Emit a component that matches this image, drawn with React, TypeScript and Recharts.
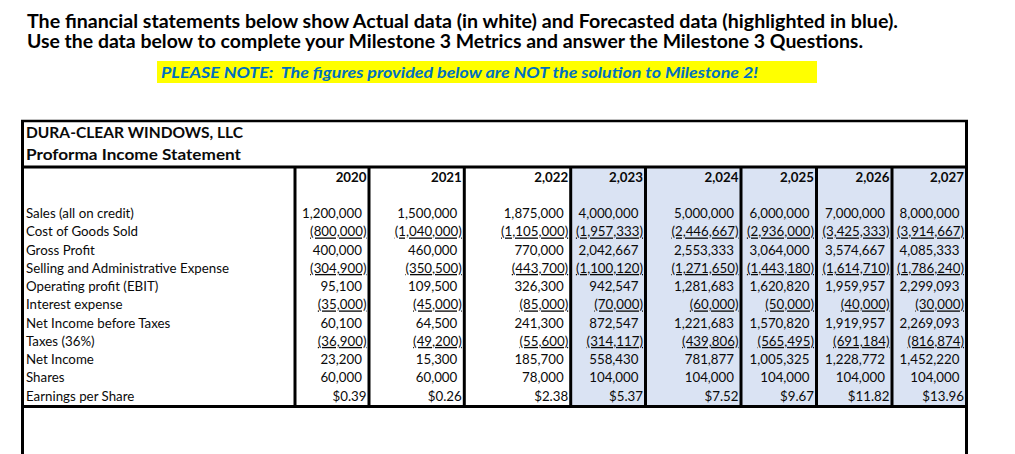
import React from 'react';
import { ScatterChart, Scatter, XAxis, YAxis, ReferenceArea, ReferenceLine } from 'recharts';

// ---------- data ----------
const years = ['2020', '2021', '2,022', '2,023', '2,024', '2,025', '2,026', '2,027'];
const firstForecastIndex = 3;
const rowLabels = [
  'Sales (all on credit)',
  'Cost of Goods Sold',
  'Gross Profit',
  'Selling and Administrative Expense',
  'Operating profit (EBIT)',
  'Interest expense',
  'Net Income before Taxes',
  'Taxes (36%)',
  'Net Income',
  'Shares',
  'Earnings per Share',
];
const sales = [1200000, 1500000, 1875000, 4000000, 5000000, 6000000, 7000000, 8000000];
const cogs = [-800000, -1040000, -1105000, -1957333, -2446667, -2936000, -3425333, -3914667];
const grossProfit = [400000, 460000, 770000, 2042667, 2553333, 3064000, 3574667, 4085333];
const sga = [-304900, -350500, -443700, -1100120, -1271650, -1443180, -1614710, -1786240];
const ebit = [95100, 109500, 326300, 942547, 1281683, 1620820, 1959957, 2299093];
const interest = [-35000, -45000, -85000, -70000, -60000, -50000, -40000, -30000];
const nibt = [60100, 64500, 241300, 872547, 1221683, 1570820, 1919957, 2269093];
const taxes = [-36900, -49200, -55600, -314117, -439806, -565495, -691184, -816874];
const netIncome = [23200, 15300, 185700, 558430, 781877, 1005325, 1228772, 1452220];
const shares = [60000, 60000, 78000, 104000, 104000, 104000, 104000, 104000];
const eps = [0.39, 0.26, 2.38, 5.37, 7.52, 9.67, 11.82, 13.96];
const rowValues = [sales, cogs, grossProfit, sga, ebit, interest, nibt, taxes, netIncome, shares, eps];
const underlinedRows = [1, 3, 5, 7];
const epsRow = 10;

const heading1 = 'The financial statements below show Actual data (in white) and Forecasted data (highlighted in blue).';
const heading2 = 'Use the data below to complete your Milestone 3 Metrics and answer the Milestone 3 Questions.';
const note = 'PLEASE NOTE:  The figures provided below are NOT the solution to Milestone 2!';
const company = 'DURA-CLEAR WINDOWS, LLC';
const statement = 'Proforma Income Statement';

// ---------- layout ----------
const W = 1015;
const H = 454;
const FONT = 'Lato, "Open Sans", sans-serif';
const FS = 13.3;
const TEXT = '#0a0a0a';
// left frame, label|2020, 2020|2021, ..., 2026|2027, right frame
const colEdges = [23, 295, 369, 464.3, 570.7, 645.5, 741, 816.5, 892, 966.5];
const HEADER_KEY = '__header';
const BLANK_KEY = '__blank';
const rowKeys = [HEADER_KEY, BLANK_KEY, ...rowLabels];

const fmtNum = (v: number) =>
  v < 0 ? `(${Math.abs(v).toLocaleString('en-US')})` : v.toLocaleString('en-US');

type Cell = { x: number; row: string; text: string; kind: string; underline?: boolean };

const axisRows: Cell[] = rowKeys.map((k) => ({ x: colEdges[0], row: k, text: '', kind: 'none' }));
const labelCells: Cell[] = rowLabels.map((l) => ({ x: colEdges[0], row: l, text: l, kind: 'label' }));
const columnCells: Cell[][] = years.map((yr, i) => [
  { x: colEdges[i + 2], row: HEADER_KEY, text: yr, kind: 'header' },
  ...rowLabels.map((l, r) => {
    const v = rowValues[r][i];
    const isEps = r === epsRow;
    return {
      x: colEdges[i + 2],
      row: l,
      text: isEps ? `$${v.toFixed(2)}` : fmtNum(v),
      kind: isEps ? 'eps' : v < 0 ? 'neg' : 'pos',
      underline: underlinedRows.includes(r),
    };
  }),
]);

const CellText = (props: any) => {
  const { cx, cy, payload } = props;
  if (!payload || payload.kind === 'none') return <g />;
  if (payload.kind === 'label') {
    return (
      <text x={cx + 3} y={cy} dy="0.35em" fontFamily={FONT} fontSize={FS} fill={TEXT} textAnchor="start">
        {payload.text}
      </text>
    );
  }
  const offset = payload.kind === 'pos' ? 7 : 2.5;
  return (
    <text
      x={cx - offset}
      y={cy}
      dy="0.35em"
      fontFamily={FONT}
      fontSize={FS}
      fontWeight={payload.kind === 'header' ? 700 : 400}
      fill={TEXT}
      textAnchor="end"
      style={payload.underline ? { textDecoration: 'underline', textUnderlineOffset: '3.5px' } : undefined}
    >
      {payload.text}
    </text>
  );
};

export default function App() {
  return (
    <div style={{ position: 'absolute', left: 0, top: 0, width: W, height: H, background: '#fff', overflow: 'hidden' }}>
      <ScatterChart width={W} height={H} margin={{ top: 168, right: 0, bottom: H - 405.1, left: 0 }}>
        <XAxis type="number" dataKey="x" domain={[0, W]} hide allowDataOverflow />
        <YAxis type="category" dataKey="row" scale="band" reversed hide allowDuplicatedCategory={false} />
        <ReferenceArea
          x1={colEdges[firstForecastIndex + 1]}
          x2={colEdges[colEdges.length - 1]}
          fill="#dae3f3"
          fillOpacity={1}
          stroke="none"
          ifOverflow="visible"
        />
        {colEdges.slice(1, colEdges.length - 1).map((e) => (
          <ReferenceLine key={e} x={e} stroke="#000" strokeWidth={3} ifOverflow="visible" />
        ))}
        <Scatter data={axisRows} shape={CellText} isAnimationActive={false} />
        <Scatter data={labelCells} shape={CellText} isAnimationActive={false} />
        {columnCells.map((cells, i) => (
          <Scatter key={years[i]} data={cells} shape={CellText} isAnimationActive={false} />
        ))}
      </ScatterChart>
      <svg width={W} height={H} style={{ position: 'absolute', left: 0, top: 0, pointerEvents: 'none' }}>
        <text x={27} y={21.7} dy="0.35em" fontFamily={FONT} fontWeight={700} fontSize={18.5} fill="#000"
          textLength={871} lengthAdjust="spacingAndGlyphs">{heading1}</text>
        <text x={27} y={41.7} dy="0.35em" fontFamily={FONT} fontWeight={700} fontSize={18.5} fill="#000"
          textLength={836} lengthAdjust="spacingAndGlyphs">{heading2}</text>
        <rect x={157} y={61} width={660} height={22} fill="#ffff00" />
        <text x={161} y={72.5} dy="0.35em" fontFamily={FONT} fontWeight={700} fontStyle="italic" fontSize={15}
          fill="#0070c0" textLength={597} lengthAdjust="spacingAndGlyphs" xmlSpace="preserve">{note}</text>
        <text x={26} y={132.7} dy="0.35em" fontFamily={FONT} fontWeight={700} fontSize={15.5} fill={TEXT}
          textLength={217} lengthAdjust="spacingAndGlyphs">{company}</text>
        <text x={26} y={155} dy="0.35em" fontFamily={FONT} fontWeight={700} fontSize={15.5} fill={TEXT}
          textLength={215} lengthAdjust="spacingAndGlyphs">{statement}</text>
        <line x1={22.5} y1={120} x2={22.5} y2={H + 5} stroke="#000" strokeWidth={3} />
        <line x1={966.5} y1={120} x2={966.5} y2={H + 5} stroke="#000" strokeWidth={3} />
        <line x1={21} y1={121} x2={968} y2={121} stroke="#000" strokeWidth={2.5} />
        <line x1={21} y1={167} x2={968} y2={167} stroke="#000" strokeWidth={3} />
        <line x1={21} y1={406.5} x2={968} y2={406.5} stroke="#000" strokeWidth={3} />
      </svg>
    </div>
  );
}
